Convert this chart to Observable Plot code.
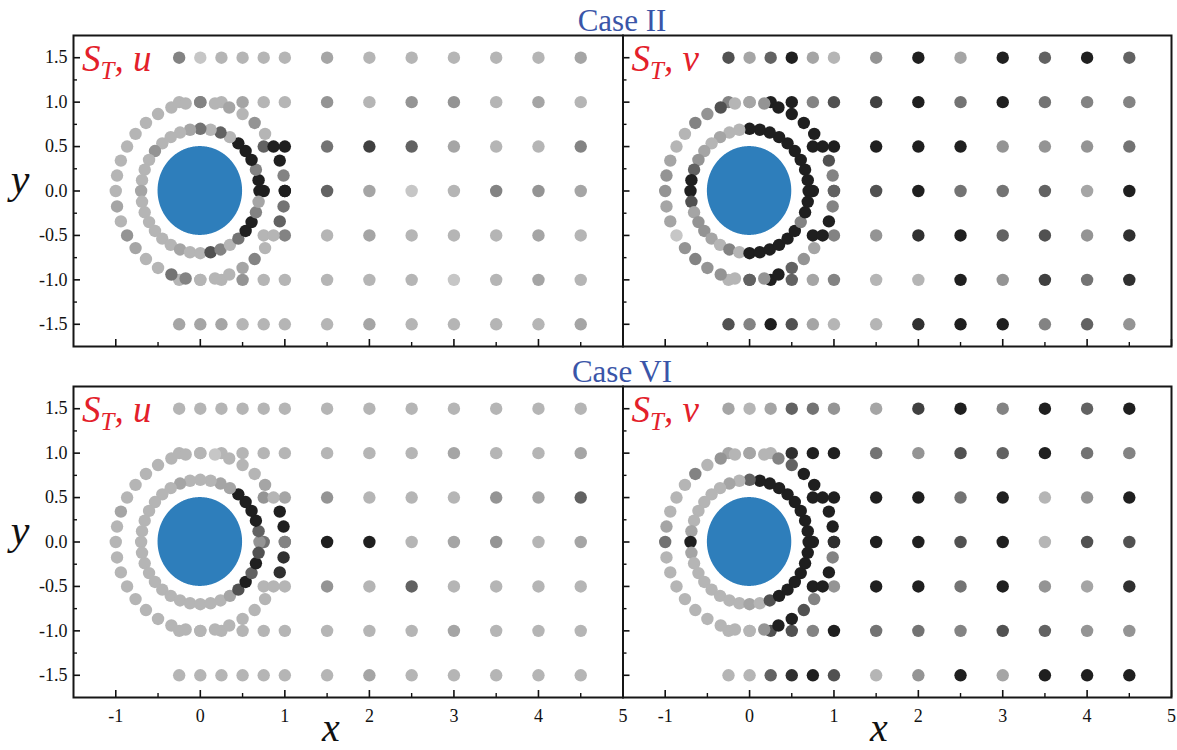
<!DOCTYPE html>
<html><head><meta charset="utf-8">
<script src="https://cdn.jsdelivr.net/npm/d3@7"></script>
<script src="https://cdn.jsdelivr.net/npm/@observablehq/plot@0.6"></script>
<style>
html,body{margin:0;padding:0;background:#fff;}
#chart{position:relative;width:1177px;height:750px;overflow:hidden;background:#fff;font-family:"Liberation Serif",Tinos,"Times New Roman",Times,serif;}
#chart svg{position:absolute;left:0;top:0;max-width:none;}
#chart text{font-family:"Liberation Serif",Tinos,"Times New Roman",Times,serif;}
</style></head><body><div id="chart"></div>
<script>
// ---- probe layout ----
const nearX = [-0.25, 0, 0.25, 0.5, 0.75, 1];
const nearY = [1.5, 1, -1, -1.5];
const sideX = [0.75, 1];
const sideY = [0.5, 0, -0.5];
const farX = [1.5, 2, 2.5, 3, 3.5, 4, 4.5];
const farY = [1.5, 1, 0.5, 0, -0.5, -1, -1.5];
const ringAngles = [0,10,20,30,40,50,60,70,80,90,100,110,120,130,140,150,160,170,180,190,200,210,220,230,240,250,260,270,280,290,300,310,320,330,340,350];
const outerR = 1.0, innerR = 0.7, cylR = 0.5;

// ---- ticks ----
const xMajor = [-1, 0, 1, 2, 3, 4, 5];
const xMinor = [-0.5, 0.5, 1.5, 2.5, 3.5, 4.5];
const yMajor = [-1.5, -1, -0.5, 0, 0.5, 1, 1.5];
const yMinor = [-1.25, -0.75, -0.25, 0.25, 0.75, 1.25];

// ---- shade levels (0 light ... 10 black) ----
// Case II, S_T u
const IIu_near = [[4,0,1,1,1,1],[1,4,1,2,1,1],[1,1,1,3,1,1],[2,2,2,1,1,1]];
const IIu_side = [[6,10,1],[10,10,4]];
const IIu_far = [
 [2,1,1,1,1,1,2],[3,1,3,3,1,2,1],[5,8,6,2,1,1,4],[6,2,0,1,4,3,2],
 [1,2,1,1,1,2,1],[1,1,1,0,1,2,1],[1,2,1,1,1,1,2]];
const IIu_outer = [10,4,10,10,1,3,1,2,1,4, 1,1,1,1,1,1,1,1,1,2, 1,3,2,1,1,5,4,1,1,1, 2,4,1,1,6,5];
const IIu_inner = [10,10,4,10,10,10,1,6,1,5, 2,1,1,1,3,1,1,1,2,1, 1,1,1,1,1,2,1,1,7,4, 1,5,10,10,4,2];
// Case II, S_T v
const IIv_near = [[7,2,6,10,2,1],[4,2,10,10,4,7],[1,6,10,6,2,4],[7,4,10,7,2,1]];
const IIv_side = [[10,10,10],[10,6,4]];
const IIv_far = [
 [3,10,2,10,6,10,6],[8,10,5,10,5,4,4],[10,10,10,3,3,3,5],[7,10,5,5,6,2,10],
 [3,9,10,6,7,3,9],[1,1,10,3,8,5,9],[1,9,10,10,4,6,3]];
const IIv_outer = [6,4,7,10,10,10,10,10,3,2, 1,7,3,4,1,1,2,3,3,2, 2,0,3,4,3,3,1,6,3,10, 6,3,2,10,10,4];
const IIv_inner = [10,10,10,10,10,10,10,10,10,10, 1,1,2,1,2,3,6,10,10,7, 2,3,3,2,1,4,1,10,10,10, 10,10,10,4,10,10];
// Case VI, S_T u
const VIu_near = [[1,1,1,1,1,1],[1,1,1,1,1,1],[1,1,1,1,1,1],[1,1,1,1,1,1]];
const VIu_side = [[3,5,1],[2,4,1]];
const VIu_far = [
 [1,1,1,1,1,1,1],[1,1,1,2,1,1,2],[3,1,1,1,3,2,6],[10,10,1,2,3,1,2],
 [3,1,6,1,1,1,1],[1,1,1,2,1,1,1],[1,2,1,1,1,1,1]];
const VIu_outer = [4,10,10,1,2,1,1,1,0,1, 1,1,1,1,1,1,2,1,1,1, 1,1,1,1,1,1,1,1,1,1, 1,1,1,1,9,9];
const VIu_inner = [3,6,10,10,10,10,2,2,1,1, 1,2,1,1,1,1,1,1,1,1, 1,1,1,1,1,1,1,1,1,1, 2,7,10,6,10,7];
// Case VI, S_T v
const VIv_near = [[2,1,2,6,5,3],[2,2,1,9,10,10],[1,1,7,7,4,10],[1,1,6,9,10,7]];
const VIv_side = [[10,10,10],[10,9,3]];
const VIv_far = [
 [2,8,10,4,10,6,10],[5,3,7,6,10,5,4],[10,10,5,10,1,3,10],[10,10,7,10,1,7,7],
 [10,10,5,10,3,2,9],[5,5,4,7,6,3,3],[1,3,10,2,10,10,10]];
const VIv_outer = [9,10,10,10,10,10,6,4,1,2, 1,3,1,4,1,1,1,2,5,1, 1,1,1,1,1,1,1,1,3,10, 10,7,4,10,10,4];
const VIv_inner = [10,10,10,10,10,10,10,10,10,6, 1,2,1,1,1,1,1,2,10,2, 1,1,1,1,1,1,1,2,1,7, 10,10,10,10,10,10];

// ---- panels ----
const panels = [
  {near: IIu_near, side: IIu_side, far: IIu_far, outer: IIu_outer, inner: IIu_inner,
   left: 73, right: 622.5, top: 35, bottom: 346, yLabels: true, xLabels: false, comp: "u"},
  {near: IIv_near, side: IIv_side, far: IIv_far, outer: IIv_outer, inner: IIv_inner,
   left: 622.5, right: 1171, top: 35, bottom: 346, yLabels: false, xLabels: false, comp: "v"},
  {near: VIu_near, side: VIu_side, far: VIu_far, outer: VIu_outer, inner: VIu_inner,
   left: 73, right: 622.5, top: 386, bottom: 697, yLabels: true, xLabels: true, comp: "u"},
  {near: VIv_near, side: VIv_side, far: VIv_far, outer: VIv_outer, inner: VIv_inner,
   left: 622.5, right: 1171, top: 386, bottom: 697, yLabels: false, xLabels: true, comp: "v"}
];

function rowsFor(p) {
  const grid = [], rings = [];
  nearY.forEach((y, i) => nearX.forEach((x, j) => grid.push({x, y, level: p.near[i][j]})));
  sideX.forEach((x, i) => sideY.forEach((y, j) => grid.push({x, y, level: p.side[i][j]})));
  farY.forEach((y, i) => farX.forEach((x, j) => grid.push({x, y, level: p.far[i][j]})));
  ringAngles.forEach((a, k) => {
    const t = a * Math.PI / 180;
    rings.push({x: outerR * Math.cos(t), y: outerR * Math.sin(t), level: p.outer[k]});
  });
  ringAngles.forEach((a, k) => {
    const t = a * Math.PI / 180;
    rings.push({x: innerR * Math.cos(t), y: innerR * Math.sin(t), level: p.inner[k]});
  });
  return {grid, rings};
}

// cylinder outline (geometry)
const cyl = d3.range(0, 181).map(i => {
  const t = i * Math.PI / 180;
  return {x: -cylR * Math.cos(t), lo: -cylR * Math.sin(t), hi: cylR * Math.sin(t)};
});

const W = 1177, H = 750;
const FONT = '"Liberation Serif", Tinos, "Times New Roman", Times, serif';
const chart = document.getElementById("chart");

panels.forEach((p, idx) => {
  const {grid, rings} = rowsFor(p);
  const fw = p.right - p.left, fh = p.bottom - p.top;
  const marks = [
    Plot.areaY(cyl, {x: "x", y1: "lo", y2: "hi", fill: "#2e7ebb", curve: "linear"}),
    Plot.dot(grid, {x: "x", y: "y", fill: "level", r: 6.2}),
    Plot.dot(rings, {x: "x", y: "y", fill: "level", r: 6.2}),
    Plot.tickX(xMajor, {x: d => d, insetTop: fh - 7, stroke: "#111", strokeWidth: 1.6}),
    Plot.tickX(xMinor, {x: d => d, insetTop: fh - 4, stroke: "#111", strokeWidth: 1.4}),
    Plot.tickY(yMajor, {y: d => d, insetRight: fw - 7, stroke: "#111", strokeWidth: 1.6}),
    Plot.tickY(yMinor, {y: d => d, insetRight: fw - 4, stroke: "#111", strokeWidth: 1.4}),
    Plot.frame({stroke: "#161616", strokeWidth: 2})
  ];
  if (p.yLabels) marks.push(Plot.axisY({ticks: yMajor, tickSize: 0, tickPadding: 6,
      tickFormat: d => d.toFixed(1), fontSize: 18, label: null}));
  if (p.xLabels) marks.push(Plot.axisX({ticks: xMajor, tickSize: 0, tickPadding: 12,
      tickFormat: d => String(d), fontSize: 18, label: null}));
  const svg = Plot.plot({
    width: W, height: H,
    marginLeft: p.left, marginRight: W - p.right, marginTop: p.top, marginBottom: H - p.bottom,
    x: {domain: [-1.5, 5], axis: null},
    y: {domain: [-1.75, 1.75], axis: null},
    color: {type: "linear", domain: [0, 10], range: ["#c6c6c6", "#1f1f1f"], interpolate: "rgb"},
    style: {background: "none", fontFamily: FONT, fontSize: "18px", color: "#111", overflow: "visible"},
    marks
  });
  svg.style.position = "absolute";
  svg.style.left = "0px";
  svg.style.top = "0px";
  svg.style.maxWidth = "none";
  svg.style.background = "none";
  svg.style.fontFamily = FONT;
  chart.appendChild(svg);
});

// ---- text overlay ----
const ov = d3.select("#chart").append("svg")
  .attr("width", W).attr("height", H)
  .style("position", "absolute").style("left", "0px").style("top", "0px")
  .attr("font-family", FONT);

const titles = [{text: "Case II", y: 31}, {text: "Case VI", y: 382}];
titles.forEach(t => ov.append("text").attr("x", 622).attr("y", t.y)
  .attr("text-anchor", "middle").attr("font-size", 31).attr("fill", "#3a55a8").text(t.text));

panels.forEach(p => {
  const tx = ov.append("text").attr("x", p.left + 9).attr("y", p.top + 36)
    .attr("font-size", 37).attr("font-style", "italic").attr("fill", "#e3202a");
  tx.append("tspan").text("S");
  tx.append("tspan").attr("font-size", 25).attr("dy", 8).text("T");
  tx.append("tspan").attr("dy", -8).text(", " + p.comp);
});

[193, 544].forEach(y => ov.append("text").attr("x", 20).attr("y", y)
  .attr("text-anchor", "middle").attr("font-size", 42).attr("font-style", "italic")
  .attr("fill", "#111").text("y"));
[331, 879].forEach(x => ov.append("text").attr("x", x).attr("y", 741)
  .attr("text-anchor", "middle").attr("font-size", 40).attr("font-style", "italic")
  .attr("fill", "#111").text("x"));
</script></body></html>
